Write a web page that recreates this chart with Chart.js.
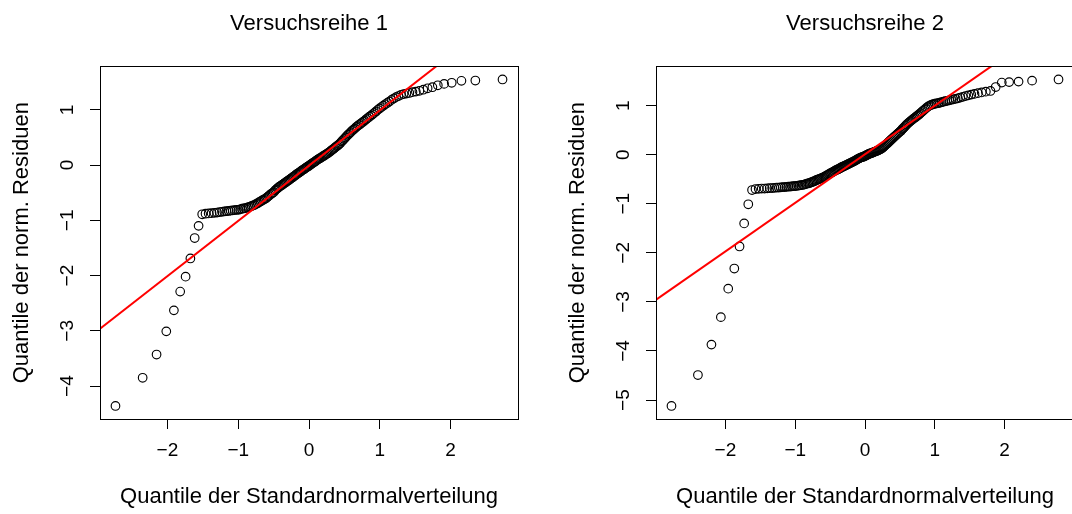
<!DOCTYPE html>
<html>
<head>
<meta charset="utf-8">
<script src="https://cdn.jsdelivr.net/npm/chart.js@4"></script>
<style>
  html, body { margin: 0; padding: 0; background: #fff; overflow: hidden; width: 1072px; height: 514px; }
  .panel { position: absolute; top: 0; width: 536px; height: 514px; }
  #p1 { left: 0; }
  #p2 { left: 556px; }
</style>
</head>
<body>
<div class="panel" id="p1"><canvas id="c1" width="536" height="514"></canvas></div>
<div class="panel" id="p2"><canvas id="c2" width="536" height="514"></canvas></div>
<script>
// Panel titles and axis labels
const panelTitles = ['Versuchsreihe 1', 'Versuchsreihe 2'];
const xAxisTitle = 'Quantile der Standardnormalverteilung';
const yAxisTitle = 'Quantile der norm. Residuen';

// Tick values
const xTickValues = [-2, -1, 0, 1, 2];
const yTickValues1 = [-4, -3, -2, -1, 0, 1];
const yTickValues2 = [-5, -4, -3, -2, -1, 0, 1];

// Sorted normalised residuals, series 1 (n = 160)
const residuals1 = [
  -4.36, -3.85, -3.43, -3.01, -2.63, -2.29, -2.02, -1.69, -1.32, -1.10,
  -0.89, -0.88, -0.875, -0.87, -0.865, -0.86, -0.85, -0.845, -0.84, -0.835,
  -0.83, -0.825, -0.82, -0.815, -0.81, -0.81, -0.80, -0.79, -0.785, -0.78,
  -0.77, -0.76, -0.75, -0.74, -0.73, -0.72, -0.70, -0.69, -0.67, -0.66,
  -0.64, -0.63, -0.615, -0.60, -0.58, -0.56, -0.54, -0.52, -0.505, -0.49,
  -0.46, -0.44, -0.42, -0.40, -0.385, -0.37, -0.355, -0.34, -0.325, -0.31,
  -0.295, -0.28, -0.265, -0.25, -0.235, -0.22, -0.205, -0.19, -0.17, -0.16,
  -0.145, -0.13, -0.115, -0.10, -0.085, -0.075, -0.06, -0.045, -0.03, -0.02,
  -0.005, 0.01, 0.025, 0.04, 0.05, 0.065, 0.08, 0.095, 0.11, 0.12,
  0.13, 0.145, 0.16, 0.17, 0.185, 0.20, 0.21, 0.225, 0.24, 0.26,
  0.275, 0.29, 0.31, 0.325, 0.345, 0.36, 0.38, 0.40, 0.43, 0.45,
  0.475, 0.50, 0.525, 0.55, 0.57, 0.595, 0.62, 0.64, 0.66, 0.685,
  0.705, 0.725, 0.745, 0.765, 0.785, 0.805, 0.83, 0.85, 0.875, 0.895,
  0.92, 0.945, 0.97, 1.00, 1.025, 1.05, 1.075, 1.10, 1.125, 1.15,
  1.18, 1.205, 1.23, 1.25, 1.27, 1.285, 1.295, 1.305, 1.32, 1.33,
  1.345, 1.365, 1.39, 1.41, 1.445, 1.47, 1.49, 1.525, 1.53, 1.55
];

// Sorted normalised residuals, series 2 (n = 180)
const residuals2 = [
  -5.12, -4.49, -3.87, -3.31, -2.73, -2.32, -1.87, -1.40, -1.01, -0.72,
  -0.70, -0.695, -0.69, -0.69, -0.685, -0.68, -0.68, -0.675, -0.67, -0.67,
  -0.665, -0.66, -0.66, -0.655, -0.65, -0.65, -0.645, -0.64, -0.64, -0.635,
  -0.63, -0.625, -0.62, -0.615, -0.61, -0.60, -0.59, -0.585, -0.575, -0.565,
  -0.555, -0.545, -0.535, -0.52, -0.51, -0.50, -0.49, -0.48, -0.47, -0.46,
  -0.45, -0.435, -0.42, -0.41, -0.395, -0.38, -0.37, -0.36, -0.345, -0.335,
  -0.32, -0.31, -0.30, -0.29, -0.28, -0.265, -0.255, -0.245, -0.235, -0.225,
  -0.215, -0.205, -0.195, -0.185, -0.175, -0.165, -0.155, -0.145, -0.135, -0.125,
  -0.115, -0.10, -0.09, -0.08, -0.07, -0.06, -0.055, -0.045, -0.04, -0.03,
  -0.02, -0.01, 0.00, 0.01, 0.02, 0.025, 0.035, 0.04, 0.05, 0.06,
  0.065, 0.075, 0.08, 0.09, 0.10, 0.11, 0.12, 0.135, 0.15, 0.17,
  0.19, 0.21, 0.23, 0.25, 0.27, 0.29, 0.31, 0.33, 0.35, 0.37,
  0.39, 0.41, 0.43, 0.45, 0.47, 0.49, 0.52, 0.54, 0.565, 0.59,
  0.615, 0.64, 0.66, 0.68, 0.70, 0.72, 0.74, 0.76, 0.78, 0.80,
  0.82, 0.845, 0.87, 0.895, 0.92, 0.945, 0.97, 0.99, 1.005, 1.02,
  1.03, 1.04, 1.045, 1.05, 1.06, 1.07, 1.08, 1.09, 1.10, 1.11,
  1.12, 1.13, 1.14, 1.15, 1.165, 1.18, 1.195, 1.21, 1.225, 1.24,
  1.255, 1.27, 1.285, 1.30, 1.38, 1.47, 1.48, 1.49, 1.51, 1.534
];

// Reference lines (intercept, slope)
const lineIntercepts = [-0.01, 0.01];
const lineSlopes = [1.0, 0.99];

Chart.defaults.font.family = "'Liberation Sans', Arial, Helvetica, sans-serif";
Chart.defaults.color = '#000';

// Inverse standard normal CDF (Acklam)
function qnorm(p) {
  const a = [-3.969683028665376e+01, 2.209460984245205e+02, -2.759285104469687e+02, 1.383577518672690e+02, -3.066479806614716e+01, 2.506628277459239e+00];
  const b = [-5.447609879822406e+01, 1.615858368580409e+02, -1.556989798598866e+02, 6.680131188771972e+01, -1.328068155288572e+01];
  const c = [-7.784894002430293e-03, -3.223964580411365e-01, -2.400758277161838e+00, -2.549732539343734e+00, 4.374664141464968e+00, 2.938163982698783e+00];
  const d = [7.784695709041462e-03, 3.224671290700398e-01, 2.445134137142996e+00, 3.754408661907416e+00];
  const pl = 0.02425, ph = 1 - pl;
  let q, r;
  if (p < pl) {
    q = Math.sqrt(-2 * Math.log(p));
    return (((((c[0]*q+c[1])*q+c[2])*q+c[3])*q+c[4])*q+c[5]) / ((((d[0]*q+d[1])*q+d[2])*q+d[3])*q+1);
  }
  if (p > ph) {
    q = Math.sqrt(-2 * Math.log(1 - p));
    return -(((((c[0]*q+c[1])*q+c[2])*q+c[3])*q+c[4])*q+c[5]) / ((((d[0]*q+d[1])*q+d[2])*q+d[3])*q+1);
  }
  q = p - 0.5; r = q * q;
  return (((((a[0]*r+a[1])*r+a[2])*r+a[3])*r+a[4])*r+a[5])*q / (((((b[0]*r+b[1])*r+b[2])*r+b[3])*r+b[4])*r+1);
}

// Normal scores for sorted values (plotting positions as in qqnorm)
function normalScores(n) {
  const a = n <= 10 ? 3 / 8 : 0.5;
  const out = [];
  for (let i = 1; i <= n; i++) out.push(qnorm((i - a) / (n + 1 - 2 * a)));
  return out;
}

const fmt = v => (v < 0 ? '\u2212' + Math.abs(v) : String(v));

// Box around the plotting region
const framePlugin = {
  id: 'frame',
  afterDatasetsDraw(chart) {
    const { ctx, chartArea: a } = chart;
    ctx.save();
    ctx.strokeStyle = '#000';
    ctx.lineWidth = 1;
    ctx.strokeRect(Math.round(a.left) + 0.5, Math.round(a.top) + 0.5,
      Math.round(a.right - a.left), Math.round(a.bottom - a.top));
    ctx.restore();
  }
};

function qqPanel(canvasId, title, residuals, yTicks, intercept, slope) {
  const scores = normalScores(residuals.length);
  const points = residuals.map((y, i) => ({ x: scores[i], y }));
  const xExt = Math.max(...scores.map(Math.abs)) * 1.08;
  const yMin = Math.min(...residuals), yMax = Math.max(...residuals);
  const yPad = (yMax - yMin) * 0.04;
  const lineX = [-xExt - 1, xExt + 1];
  const linePts = lineX.map(x => ({ x, y: intercept + slope * x }));

  return new Chart(document.getElementById(canvasId), {
    type: 'scatter',
    data: {
      datasets: [
        {
          type: 'line',
          data: linePts,
          borderColor: '#ff0000',
          borderWidth: 2,
          pointRadius: 0,
          fill: false,
          order: 0
        },
        {
          data: points,
          pointStyle: 'circle',
          pointRadius: 4.3,
          pointBorderWidth: 1.15,
          pointBorderColor: '#000',
          pointBackgroundColor: 'rgba(0,0,0,0)',
          order: 1
        }
      ]
    },
    options: {
      responsive: false,
      animation: false,
      events: [],
      devicePixelRatio: 1,
      layout: { padding: { left: 0, right: 18, top: 0, bottom: 0 } },
      plugins: {
        legend: { display: false },
        tooltip: { enabled: false },
        title: {
          display: true,
          text: title,
          fullSize: false,
          color: '#000',
          font: { size: 22, weight: 'normal' },
          padding: { top: 11, bottom: 29 }
        }
      },
      scales: {
        x: {
          type: 'linear',
          position: 'bottom',
          min: -xExt,
          max: xExt,
          afterBuildTicks: s => { s.ticks = xTickValues.map(v => ({ value: v })); },
          afterFit: s => { s.height = 95; },
          border: { display: false },
          grid: { drawOnChartArea: false, drawTicks: true, tickLength: 10, color: '#000', tickColor: '#000', tickWidth: 1 },
          ticks: { autoSkip: false, maxRotation: 0, padding: 10, color: '#000', font: { size: 19 }, callback: fmt },
          title: { display: true, text: xAxisTitle, color: '#000', font: { size: 22 }, padding: { top: 0, bottom: 4 } }
        },
        y: {
          type: 'linear',
          position: 'left',
          min: yMin - yPad,
          max: yMax + yPad,
          afterBuildTicks: s => { s.ticks = yTicks.map(v => ({ value: v })); },
          afterFit: s => { s.width = 100; },
          border: { display: false },
          grid: { drawOnChartArea: false, drawTicks: true, tickLength: 10, color: '#000', tickColor: '#000', tickWidth: 1 },
          ticks: { autoSkip: false, minRotation: 90, maxRotation: 90, crossAlign: 'center', padding: 11, color: '#000', font: { size: 19 }, callback: fmt },
          title: { display: true, text: yAxisTitle, color: '#000', font: { size: 22 }, padding: { top: 9, bottom: 0 } }
        }
      }
    },
    plugins: [framePlugin]
  });
}

qqPanel('c1', panelTitles[0], residuals1, yTickValues1, lineIntercepts[0], lineSlopes[0]);
qqPanel('c2', panelTitles[1], residuals2, yTickValues2, lineIntercepts[1], lineSlopes[1]);
</script>
</body>
</html>
